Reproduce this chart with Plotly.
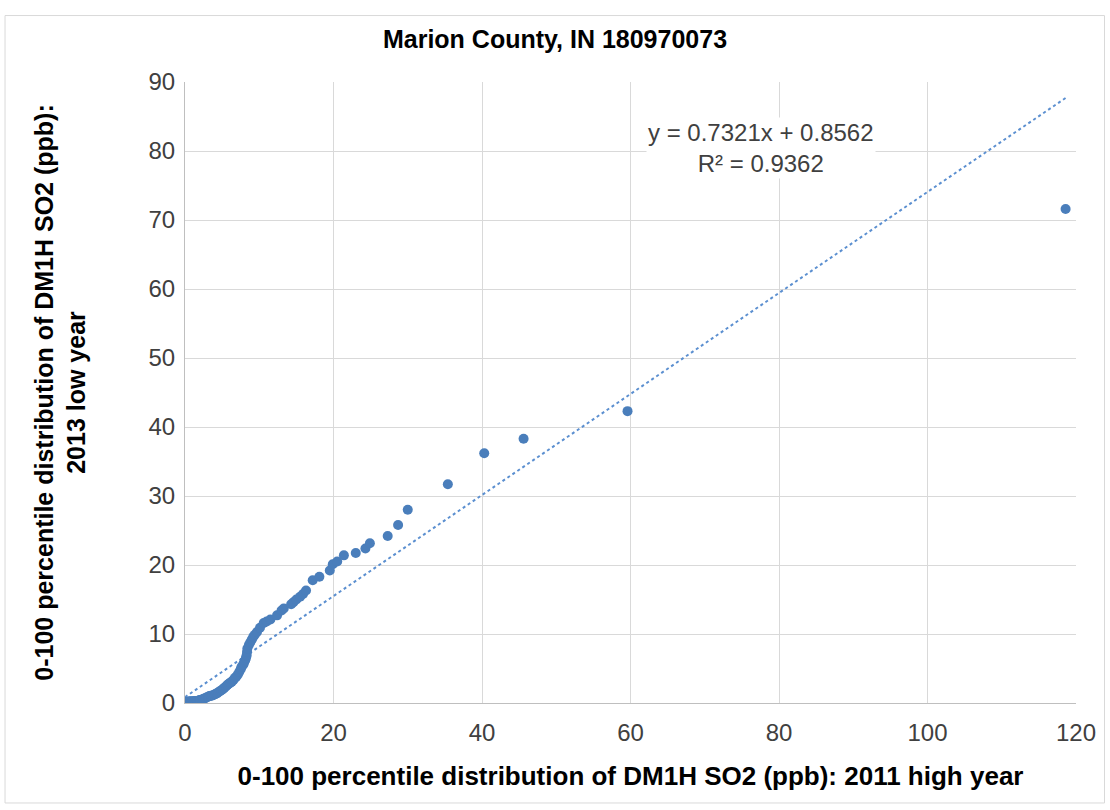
import plotly.graph_objects as go

# percentile values (ppb)
x_2011 = [
    0.0, 0.0, 0.0, 0.0, 0.0, 0.1, 0.1, 0.2, 0.3, 0.4,
    0.5, 0.6, 0.7, 0.8, 0.9, 1.0, 1.1, 1.2, 1.3, 1.4,
    1.5, 1.6, 1.7, 1.8, 1.9, 2.0, 2.1, 2.3, 2.5, 2.7,
    2.9, 3.1, 3.3, 3.5, 3.7, 3.9, 4.1, 4.3, 4.5, 4.7,
    4.9, 5.1, 5.3, 5.5, 5.7, 5.9, 6.1, 6.3, 6.5, 6.7,
    6.9, 7.1, 7.3, 7.5, 7.6, 7.8, 7.9, 8.0, 8.1, 8.2,
    8.3, 8.35, 8.4, 8.6, 8.8, 9.0, 9.2, 9.4, 9.7, 10.1,
    10.6, 11.0, 11.5, 12.4, 13.0, 13.3, 14.3, 14.6, 15.0, 15.5,
    15.9, 16.3, 17.2, 18.1, 19.5, 19.9, 20.5, 21.4, 23.0, 24.3,
    24.9, 27.3, 28.7, 30.0, 35.4, 40.3, 45.6, 59.6, 118.6]
y_2013 = [
    0.0, 0.0, 0.1, 0.1, 0.1, 0.1, 0.1, 0.1, 0.1, 0.1,
    0.2, 0.2, 0.2, 0.2, 0.2, 0.2, 0.2, 0.2, 0.3, 0.3,
    0.3, 0.3, 0.3, 0.3, 0.4, 0.4, 0.45, 0.5, 0.6, 0.7,
    0.8, 0.9, 1.0, 1.05, 1.1, 1.2, 1.3, 1.4, 1.55, 1.7,
    1.85, 2.0, 2.2, 2.4, 2.6, 2.8, 2.95, 3.1, 3.3, 3.6,
    3.8, 4.1, 4.5, 4.9, 5.2, 5.5, 5.7, 6.0, 6.2, 6.5,
    6.9, 7.4, 7.9, 8.4, 8.8, 9.2, 9.6, 9.9, 10.3, 10.9,
    11.6, 11.8, 12.1, 12.7, 13.4, 13.7, 14.3, 14.6, 15.0, 15.4,
    15.8, 16.3, 17.8, 18.3, 19.2, 20.1, 20.5, 21.4, 21.75, 22.4,
    23.15, 24.2, 25.8, 28.0, 31.7, 36.2, 38.3, 42.3, 71.6]

slope = 0.7321
intercept = 0.8562
r2 = 0.9362

x_ticks = [0, 20, 40, 60, 80, 100, 120]
y_ticks = [0, 10, 20, 30, 40, 50, 60, 70, 80, 90]

FONT = "Liberation Sans"
BLUE = "#4a7ebb"

trend_x = [min(x_2011), max(x_2011)]
trend_y = [slope * v + intercept for v in trend_x]

fig = go.Figure()
fig.add_trace(go.Scatter(x=trend_x, y=trend_y, mode="lines",
                         line=dict(color="#5b8fd0", width=2, dash="dot"),
                         hoverinfo="skip"))
fig.add_trace(go.Scatter(x=x_2011, y=y_2013, mode="markers",
                         marker=dict(color=BLUE, size=10)))

fig.add_annotation(x=0.646, y=0.894, xref="paper", yref="paper",
                   xanchor="center", yanchor="middle",
                   text="y = %.4fx + %.4f<br>R\u00b2 = %.4f" % (slope, intercept, r2),
                   showarrow=False, align="center", bgcolor="white",
                   font=dict(family=FONT, size=24, color="#404040"))

# light border round the whole chart area
fig.add_shape(type="rect", xref="paper", yref="paper",
              x0=-0.202, x1=1.032, y0=-0.161, y1=1.107,
              line=dict(color="#d9d9d9", width=1))

fig.update_layout(
    width=1110, height=810,
    margin=dict(l=185, r=34, t=82, b=107),
    paper_bgcolor="white", plot_bgcolor="white",
    showlegend=False,
    title=dict(text="<b>Marion County, IN 180970073</b>", x=0.5, xanchor="center",
               y=0.951, yanchor="middle",
               font=dict(family=FONT, size=25, color="#000000")),
    font=dict(family=FONT, color="#404040"),
    xaxis=dict(range=[0, 120], tickvals=x_ticks, showgrid=True, gridcolor="#d9d9d9",
               zeroline=False, showline=True, linecolor="#bfbfbf", ticks="",
               tickfont=dict(size=24, color="#404040"), ticklabelstandoff=8,
               title=dict(text="<b>0-100 percentile distribution of DM1H SO2 (ppb): 2011 high year</b>",
                          font=dict(family=FONT, size=26, color="#000000"), standoff=22)),
    yaxis=dict(range=[0, 90], tickvals=y_ticks, showgrid=True, gridcolor="#d9d9d9",
               zeroline=False, showline=True, linecolor="#bfbfbf", ticks="",
               tickfont=dict(size=24, color="#404040"), ticklabelstandoff=4,
               title=dict(text="<b>0-100 percentile distribution of DM1H SO2 (ppb):<br>2013 low year</b>",
                          font=dict(family=FONT, size=25, color="#000000"), standoff=55)),
)

fig.write_html("out.html", config={"displayModeBar": False},
               post_script="document.body.style.margin='0';")
